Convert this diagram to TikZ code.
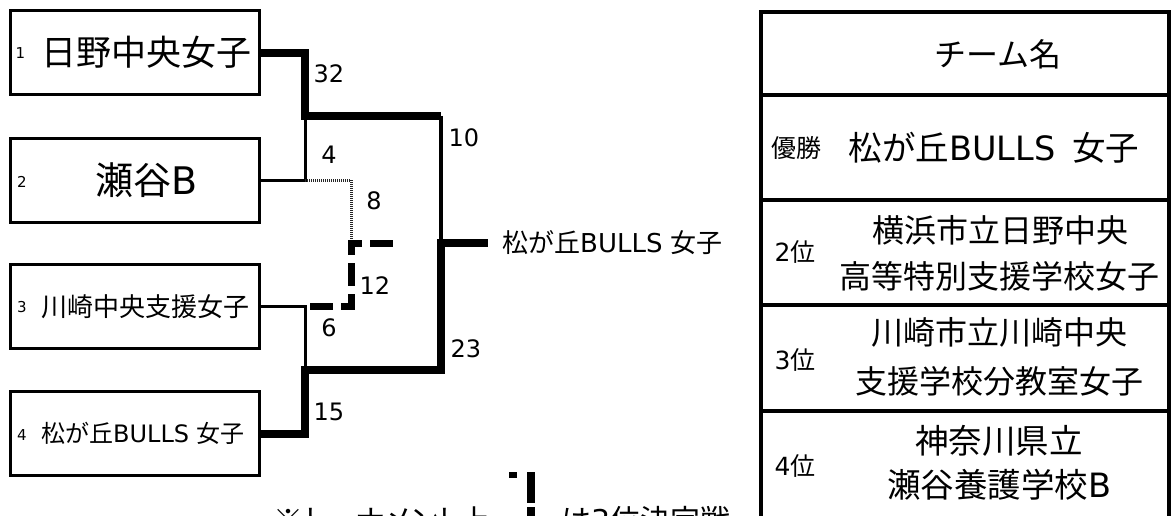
\documentclass[tikz,border=0pt]{standalone}
\usepackage{fontspec}
\setmainfont{Noto Sans CJK JP}
\newfontfamily\jpp[RawFeature=+palt]{Noto Sans CJK JP}
\newfontfamily\lat{DejaVu Sans}
\newcommand{\fs}[1]{\fontsize{#1}{#1}\selectfont}
\newcommand{\la}[1]{{\lat #1}}
\tikzset{
  teambox/.style={draw, line width=3pt, minimum width=249pt, minimum height=84pt, inner sep=0pt},
  txt/.style={inner sep=0pt},
  winline/.style={line width=8pt},
  midline/.style={line width=3.5pt},
  lineT/.style={line width=3pt},
  grayline/.style={line width=3pt, draw=black!85, dash pattern=on 1pt off 1pt},
  thirdline/.style={line width=7pt, dash pattern=on 23pt off 8pt},
  tbl/.style={line width=4pt},
}
\begin{document}
\begin{tikzpicture}[x=1pt,y=-1pt]
\useasboundingbox (0,0) rectangle (1171,516);
\clip (0,0) rectangle (1171,516);
% team boxes
\node[teambox] (b1) at (134.5,52.6) {};
\node[teambox] (b2) at (134.5,180.4) {};
\node[teambox] (b3) at (134.5,306.8) {};
\node[teambox] (b4) at (134.5,433.5) {};
\node[txt] (n1) at (20.5,52.6) {\fs{15}\la{1}};
\node[txt] (n2) at (22,182) {\fs{15}\la{2}};
\node[txt] (n3) at (22,307) {\fs{15}\la{3}};
\node[txt] (n4) at (22,435) {\fs{15}\la{4}};
\node[txt, anchor=west] (t1) at (41,52.6) {\fs{35}日野中央女子};
\node[txt, anchor=west] (t2) at (95,180.4) {\fs{38}瀬谷\la{B}};
\node[txt, anchor=west] (t3) at (41,306.8) {\fs{26}川崎中央支援女子};
\node[txt, anchor=west] (t4) at (41,433.5) {\fs{24}松が丘\la{BULLS }女子};
% junctions
\coordinate (j10) at (441,116);
\coordinate (jF) at (441,243);
\coordinate (j23) at (441,370);
\coordinate (j4) at (305,180.4);
\coordinate (j6) at (305,306.8);
\coordinate (j6s) at (310,306.8);
\coordinate (wend) at (488,243);
% bracket lines
\draw[lineT] (b2.east) -- (j4) -- (305,116);
\draw[lineT] (b3.east) -- (j6) -- (305,370);
\draw[midline] (j10) -- (jF);
\draw[grayline] (j4) -- (351,180.4) -- (351,240);
\draw[thirdline] (j6s) -- (351,306.8) -- (351,243) -- (395,243);
\draw[winline] (b1.east) -- (305,52.6) -- (305,116) -- (j10);
\draw[winline] (b4.east) -- (305,433.5) -- (305,370) -- (j23) -- (jF) -- (wend);
\node[txt, anchor=west] (win) at (502,243) {\fs{26}松が丘\la{BULLS }女子};
% scores
\node[txt] (s32) at (329,74) {\fs{24}\la{32}};
\node[txt] (s10) at (464,137.5) {\fs{24}\la{10}};
\node[txt] (s4) at (329,155) {\fs{24}\la{4}};
\node[txt] (s8) at (374,201) {\fs{24}\la{8}};
\node[txt] (s12) at (375,286) {\fs{24}\la{12}};
\node[txt] (s6) at (329,328) {\fs{24}\la{6}};
\node[txt] (s23) at (466,349) {\fs{24}\la{23}};
\node[txt] (s15) at (329,412) {\fs{24}\la{15}};
% results table
\draw[tbl] (760.5,530) |- (1168.7,12) -- (1168.7,530);
\draw[tbl] (760.5,95.3) -- (1168.7,95.3);
\draw[tbl] (760.5,200.3) -- (1168.7,200.3);
\draw[tbl] (760.5,305.3) -- (1168.7,305.3);
\draw[tbl] (760.5,411.3) -- (1168.7,411.3);
\node[txt] (hdr) at (998,54) {\fs{32}チーム名};
\node[txt] (r1a) at (796,148) {\fs{25}優勝};
\node[txt] (r1b) at (994,148) {\fs{33.5}松が丘\la{BULLS}\hspace{0.5em}女子};
\node[txt] (r2a) at (795,252) {\fs{25}\la{2}位};
\node[txt] (r2b) at (1000,230) {\fs{32}横浜市立日野中央};
\node[txt] (r2c) at (999,276.5) {\fs{32}高等特別支援学校女子};
\node[txt] (r3a) at (795,360) {\fs{25}\la{3}位};
\node[txt] (r3b) at (999,332.5) {\fs{32}川崎市立川崎中央};
\node[txt] (r3c) at (999,381) {\fs{32}支援学校分教室女子};
\node[txt] (r4a) at (795,466) {\fs{25}\la{4}位};
\node[txt] (r4b) at (999,441) {\fs{33.5}神奈川県立};
\node[txt] (r4c) at (999,485) {\fs{33.5}瀬谷養護学校\la{B}};
% note
\node[txt, anchor=base east] (note1) at (491,531) {\jpp\fs{30}※トーナメント上};
\node[txt, anchor=base west] (note2) at (561,531) {\fs{30}は\la{3}位決定戦};
\draw[line width=6pt] (509,475) -- (517,475);
\draw[line width=8.3pt] (531,472) -- (531,503) (531,507) -- (531,520);
\end{tikzpicture}
\end{document}
